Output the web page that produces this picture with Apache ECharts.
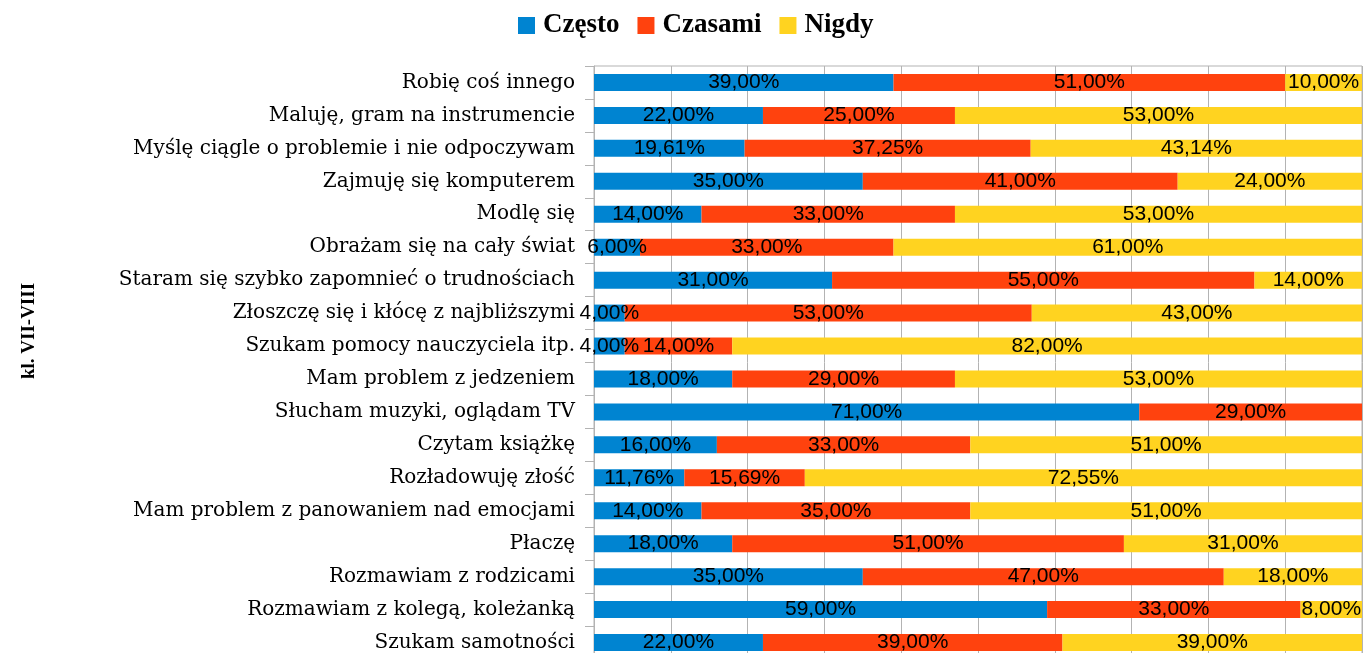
<!DOCTYPE html>
<html>
<head>
<meta charset="utf-8">
<script src="https://cdn.jsdelivr.net/npm/echarts@6/dist/echarts.min.js"></script>
<style>
  html, body { margin: 0; padding: 0; background: #fff; overflow: hidden; }
  /* wykres wychodzi poza dolną krawędź okna, jak w oryginale */
  #chart { width: 1363px; height: 670px; }
</style>
</head>
<body>
<div id="chart"></div>
<script>
// kategorie od góry do dołu
const categories = [
    'Robię coś innego',
    'Maluję, gram na instrumencie',
    'Myślę ciągle o problemie i nie odpoczywam',
    'Zajmuję się komputerem',
    'Modlę się',
    'Obrażam się na cały świat',
    'Staram się szybko zapomnieć o trudnościach',
    'Złoszczę się i kłócę z najbliższymi',
    'Szukam pomocy nauczyciela itp.',
    'Mam problem z jedzeniem',
    'Słucham muzyki, oglądam TV',
    'Czytam książkę',
    'Rozładowuję złość',
    'Mam problem z panowaniem nad emocjami',
    'Płaczę',
    'Rozmawiam z rodzicami',
    'Rozmawiam z kolegą, koleżanką',
    'Szukam samotności'
];

const czesto = [39, 22, 19.61, 35, 14, 6, 31, 4, 4, 18, 71, 16, 11.76, 14, 18, 35, 59, 22];
const czasami = [51, 25, 37.25, 41, 33, 33, 55, 53, 14, 29, 29, 33, 15.69, 35, 51, 47, 33, 39];
const nigdy = [10, 53, 43.14, 24, 53, 61, 14, 43, 82, 53, 0, 51, 72.55, 51, 31, 18, 8, 39];

const seriesNames = ['Często', 'Czasami', 'Nigdy'];
const colors = ['#0084d1', '#ff420e', '#ffd320'];
const axisTitle = 'kl. VII-VIII';

const gray = '#b3b3b3';

const chart = echarts.init(document.getElementById('chart'));

// etykieta w formacie 39,00%
const fmt = (p) => p.value ? p.value.toFixed(2).replace('.', ',') + '%' : '';

const makeSeries = (name, data, i) => ({
    name: name,
    type: 'bar',
    stack: 'total',
    data: data,
    barWidth: 17,
    itemStyle: { color: colors[i] },
    label: {
        show: true,
        position: 'inside',
        formatter: fmt,
        color: '#000',
        fontFamily: 'Liberation Sans',
        fontSize: 21
    }
});

chart.setOption({
    animation: false,
    color: colors,
    legend: {
        top: 7,
        left: 513,
        icon: 'rect',
        itemWidth: 17,
        itemHeight: 17,
        itemGap: 18,
        data: seriesNames,
        textStyle: {
            fontFamily: 'Liberation Serif',
            fontWeight: 'bold',
            fontSize: 27,
            color: '#000',
            padding: [0, 0, 0, 3]
        }
    },
    grid: {
        left: 594,
        right: 1,
        top: 66,
        bottom: 11,
        show: true,
        borderColor: gray,
        borderWidth: 1
    },
    xAxis: {
        type: 'value',
        min: 0,
        max: 100,
        interval: 10,
        axisLabel: { show: false },
        axisLine: { show: false },
        axisTick: { show: false },
        splitLine: { lineStyle: { color: gray, width: 1 } }
    },
    yAxis: {
        type: 'category',
        inverse: true,
        data: categories,
        axisLine: { show: true, lineStyle: { color: gray } },
        axisTick: { show: true, length: 9, lineStyle: { color: gray } },
        axisLabel: {
            margin: 19,
            color: '#000',
            fontFamily: 'DejaVu Serif',
            fontSize: 20
        }
    },
    graphic: [{
        type: 'text',
        x: 29,
        y: 331,
        rotation: Math.PI / 2,
        style: {
            text: axisTitle,
            fontFamily: 'Liberation Serif',
            fontWeight: 'bold',
            fontSize: 19,
            fill: '#000',
            align: 'center',
            verticalAlign: 'middle'
        }
    }],
    series: [
        makeSeries(seriesNames[0], czesto, 0),
        makeSeries(seriesNames[1], czasami, 1),
        makeSeries(seriesNames[2], nigdy, 2)
    ]
});
</script>
</body>
</html>
